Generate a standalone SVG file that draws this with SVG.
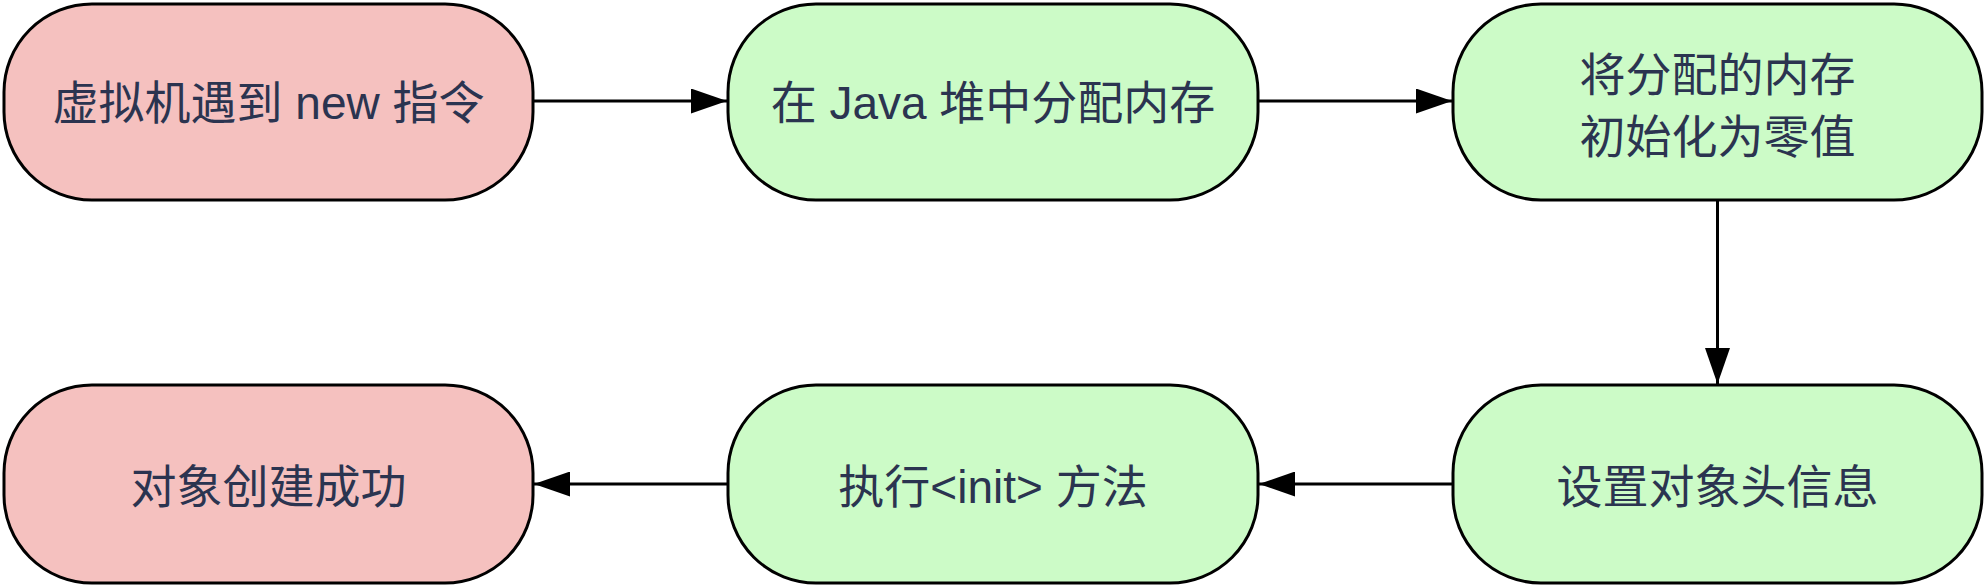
<svg xmlns="http://www.w3.org/2000/svg" width="1986" height="585" viewBox="0 0 1986 585">
<defs>
<style>
.node rect{stroke:#000;stroke-width:3}
.red rect{fill:#f5c1bf}
.green rect{fill:#ccfbc7}
.node text{font-family:"Liberation Sans","Noto Sans CJK SC",sans-serif;font-size:46px;fill:#2b3450;text-anchor:middle}
.edge{stroke:#000;stroke-width:3;fill:none}
</style>
<marker id="arr" viewBox="0 0 36 25" refX="36" refY="12.5" markerWidth="36" markerHeight="25" markerUnits="userSpaceOnUse" orient="auto">
<path d="M0,0 L36,12.5 L0,25 Z" fill="#000"/>
</marker>
</defs>
<rect width="1986" height="585" fill="#fff"/>
<g id="connectors">
<line class="edge" x1="533" y1="101" x2="727" y2="101" marker-end="url(#arr)"/>
<line class="edge" x1="1258" y1="101" x2="1452" y2="101" marker-end="url(#arr)"/>
<line class="edge" x1="1717.5" y1="200" x2="1717.5" y2="384" marker-end="url(#arr)"/>
<line class="edge" x1="1453" y1="484" x2="1259" y2="484" marker-end="url(#arr)"/>
<line class="edge" x1="728" y1="484" x2="534" y2="484" marker-end="url(#arr)"/>
</g>
<g id="n1" class="node red">
<rect x="4" y="4" width="529" height="196" rx="88" ry="88"/>
<text x="268.5" y="119">虚拟机遇到 new 指令</text>
</g>
<g id="n2" class="node green">
<rect x="728" y="4" width="530" height="196" rx="88" ry="88"/>
<text x="993" y="119">在 Java 堆中分配内存</text>
</g>
<g id="n3" class="node green">
<rect x="1453" y="4" width="529" height="196" rx="88" ry="88"/>
<text x="1717.5" y="91">将分配的内存</text>
<text x="1717.5" y="153">初始化为零值</text>
</g>
<g id="n4" class="node green">
<rect x="1453" y="385" width="529" height="198" rx="88" ry="88"/>
<text x="1717.5" y="503">设置对象头信息</text>
</g>
<g id="n5" class="node green">
<rect x="728" y="385" width="530" height="198" rx="88" ry="88"/>
<text x="993" y="503">执行&lt;init&gt; 方法</text>
</g>
<g id="n6" class="node red">
<rect x="4" y="385" width="529" height="198" rx="88" ry="88"/>
<text x="268.5" y="503">对象创建成功</text>
</g>
</svg>
